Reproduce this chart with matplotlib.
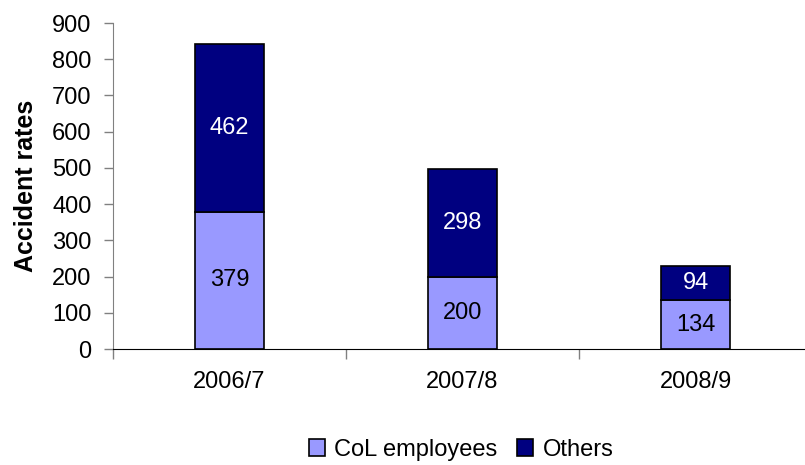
import matplotlib
matplotlib.use("Agg")
from matplotlib import pyplot as plt
import numpy as np

plt.rcParams['font.family'] = ['Liberation Sans', 'DejaVu Sans']

# data
years = ["2006/7", "2007/8", "2008/9"]
col_employees = [379, 200, 134]
others = [462, 298, 94]
y_ticks = [0, 100, 200, 300, 400, 500, 600, 700, 800, 900]

light = "#9999FF"
dark = "#000080"
fs = 17

fig = plt.figure(figsize=(8.05, 4.65), dpi=100)
ax = fig.add_axes([113 / 805, 116 / 465, 699 / 805, 326 / 465])

x = np.arange(len(years))
ax.bar(x, col_employees, width=0.3, color=light, edgecolor="black", linewidth=1.2,
       label="CoL employees")
ax.bar(x, others, width=0.3, bottom=col_employees, color=dark, edgecolor="black",
       linewidth=1.2, label="Others")

# value labels in the middle of each segment
for i in range(len(years)):
    ax.text(x[i], col_employees[i] / 2, str(col_employees[i]), ha="center", va="center",
            fontsize=fs, color="black")
    ax.text(x[i], col_employees[i] + others[i] / 2, str(others[i]), ha="center", va="center",
            fontsize=fs, color="white")

ax.set_xlim(-0.5, 2.5)
ax.set_ylim(0, 900)
ax.set_yticks(y_ticks)
ax.tick_params(axis="y", labelsize=fs, length=6.5, width=1, color="#808080", pad=9)

# category labels centred, ticks on the boundaries
ax.set_xticks(x)
ax.set_xticklabels(years, fontsize=fs)
ax.tick_params(axis="x", length=0, pad=16)
ax.set_xticks([-0.5, 0.5, 1.5], minor=True)
ax.tick_params(axis="x", which="minor", length=7, width=1, color="#808080", direction="out")

ax.spines["top"].set_visible(False)
ax.spines["right"].set_visible(False)
ax.spines["left"].set_color("#808080")
ax.spines["bottom"].set_color("black")

ax.set_ylabel("Accident rates", fontsize=18, fontweight="bold", labelpad=10)

ax.legend(loc="center", bbox_to_anchor=(461 / 805, 15 / 465), bbox_transform=fig.transFigure,
          ncol=2, frameon=False, fontsize=fs, handlelength=0.7, handleheight=0.7,
          handletextpad=0.4, columnspacing=0.8)

fig.savefig("out.png", dpi=100)
